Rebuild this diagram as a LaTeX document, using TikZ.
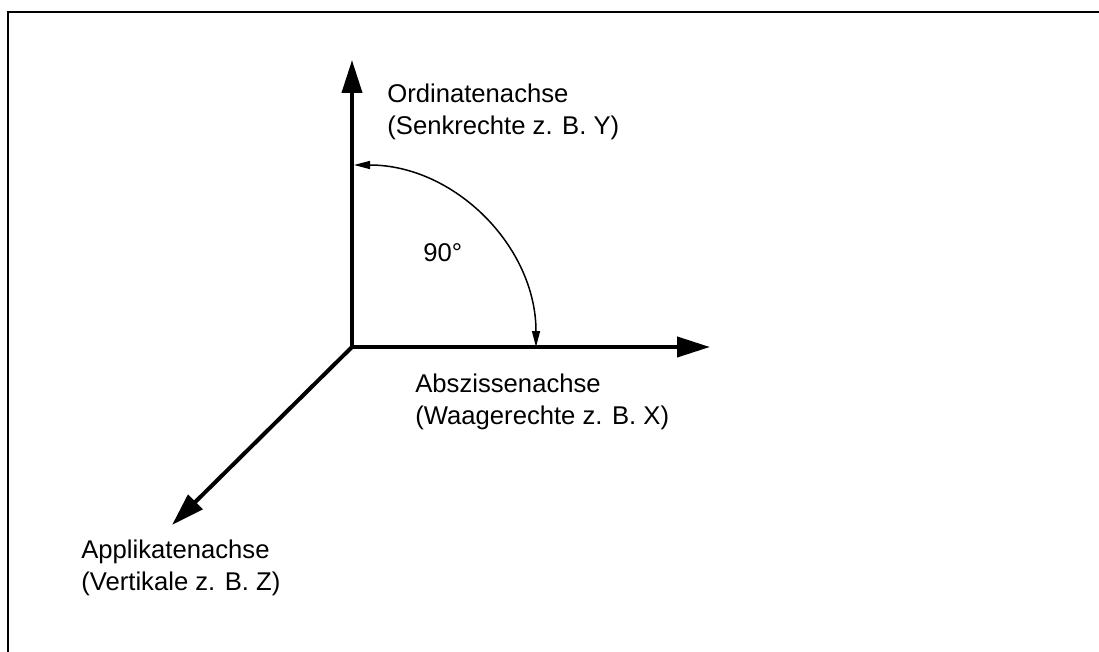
\documentclass[tikz,border=0pt]{standalone}
\usepackage{fontspec}
\setmainfont{Liberation Sans}
\usetikzlibrary{arrows.meta}

\begin{document}
\begin{tikzpicture}[
  x=0.02cm, y=-0.02cm,
  font=\fontsize{14.6pt}{17.8pt}\selectfont,
  ax/.style={line width=0.08cm, line join=miter, >={Triangle[length=0.66cm, width=0.4cm]}},
  ang/.style={<->, line width=0.03cm, >={Triangle[length=0.32cm, width=0.16cm]}},
  lbl/.style={anchor=base west, align=left, inner sep=0pt},
  frm/.style={line width=0.04cm}
]
\useasboundingbox (0,0) rectangle (1099,652);
% frame, only top and left edge
\draw[frm] (8,652) -- (8,12) -- (1099,12);
% axes
\coordinate (o) at (352,347);
\coordinate (ytip) at (352,60);
\coordinate (xtip) at (710,347);
\coordinate (ztip) at (172,525);
\draw[ax, <->] (ytip) -- (o) -- (xtip);
\draw[ax, ->] (o) -- (ztip);
% right angle
\draw[ang] (o) ++(2,-182) arc[start angle=-90, end angle=0, radius=182];
\node[lbl] (anglbl) at (423,261) {90°};
% labels (base = last line)
\node[lbl] (ylbl) at (387,134) {Ordinatenachse\\(Senkrechte z. B. Y)};
\node[lbl] (xlbl) at (415,424) {Abszissenachse\\(Waagerechte z. B. X)};
\node[lbl] (zlbl) at (81,590) {Applikatenachse\\(Vertikale z. B. Z)};
\end{tikzpicture}
\end{document}
